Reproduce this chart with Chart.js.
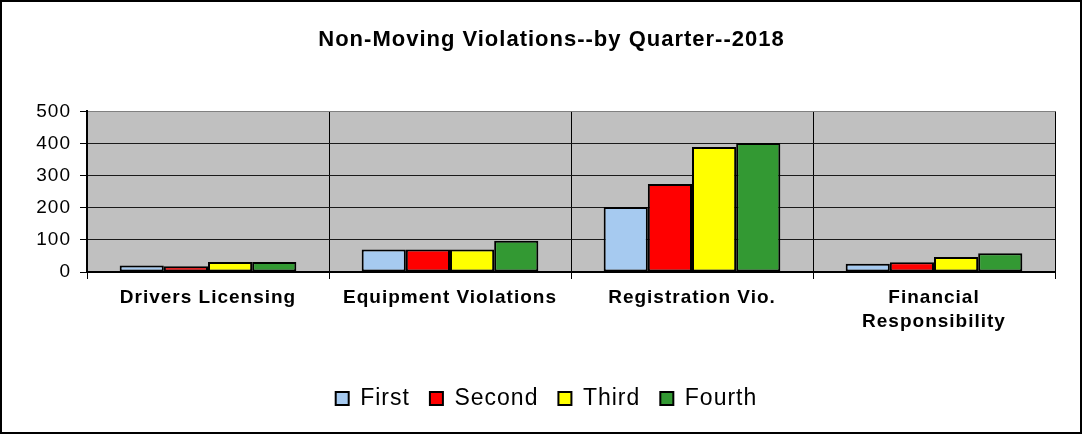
<!DOCTYPE html>
<html><head><meta charset="utf-8">
<script src="https://cdn.jsdelivr.net/npm/chart.js@4.4.1/dist/chart.umd.min.js"></script>
<style>html,body{margin:0;padding:0;background:#fff;}#wrap{width:1083px;height:435px;position:relative;}canvas{display:block;}</style>
</head><body><div id="wrap"><canvas id="c" width="1083" height="435"></canvas></div>
<script>
const categories = ["Drivers Licensing", "Equipment Violations", "Registration Vio.", ["Financial", "Responsibility"]];
const seriesNames = ["First", "Second", "Third", "Fourth"];
const firstQ = [20, 70, 202, 26];
const secondQ = [18, 70, 274, 30];
const thirdQ = [31, 70, 389, 47];
const fourthQ = [31, 97, 402, 58];
const yMin = 0, yMax = 500, yStep = 100;
const seriesColors = ["#A6CAF0", "#FF0000", "#FFFF00", "#339933"];

const FONT = "'Liberation Sans', Arial, sans-serif";
const SPACING = '1px';

const framePlugin = {
  id: 'frame',
  beforeLayout(chart) { chart.ctx.letterSpacing = SPACING; },
  afterLayout(chart) {
    // centre title and legend like the original (slightly right of canvas centre)
    if (chart.titleBlock) { chart.titleBlock.left += 24; chart.titleBlock.right += 24; }
    if (chart.legend) { chart.legend.left += 19; chart.legend.right += 19; }
  },
  beforeDraw(chart) {
    const ctx = chart.ctx;
    ctx.letterSpacing = SPACING;
    ctx.save();
    ctx.fillStyle = '#fff';
    ctx.fillRect(0, 0, chart.width, chart.height);
    const a = chart.chartArea;
    ctx.fillStyle = '#C0C0C0';
    ctx.fillRect(a.left, a.top, a.right - a.left, a.bottom - a.top);
    ctx.restore();
  },
  afterDraw(chart) {
    const ctx = chart.ctx;
    ctx.save();
    ctx.strokeStyle = '#000';
    ctx.lineWidth = 2;
    ctx.strokeRect(1, 1, chart.width - 3, chart.height - 3);
    ctx.restore();
  }
};

const series = [firstQ, secondQ, thirdQ, fourthQ];
new Chart(document.getElementById('c'), {
  type: 'bar',
  data: {
    labels: categories,
    datasets: series.map((d, i) => ({
      label: seriesNames[i],
      data: d,
      backgroundColor: seriesColors[i],
      borderColor: '#000',
      borderWidth: 2,
      borderSkipped: false,
      barPercentage: 1.0,
      categoryPercentage: 0.73
    }))
  },
  options: {
    responsive: false,
    devicePixelRatio: 1,
    animation: false,
    layout: { padding: { left: 0, right: 28, top: 0, bottom: 15 } },
    plugins: {
      title: {
        display: true,
        text: 'Non-Moving Violations--by Quarter--2018',
        color: '#000',
        font: { family: FONT, size: 22, weight: 'bold', lineHeight: 1.2 },
        padding: { top: 27, bottom: 58 }
      },
      legend: {
        position: 'bottom',
        labels: {
          color: '#000',
          font: { family: FONT, size: 23 },
          boxWidth: 13,
          boxHeight: 13,
          padding: 20
        }
      },
      tooltip: { enabled: false }
    },
    scales: {
      x: {
        offset: true,
        grid: {
          offset: true,
          color: (c) => (c.index === categories.length ? '#808080' : '#000'),
          lineWidth: 1,
          drawTicks: true,
          tickLength: 7,
          tickColor: '#000'
        },
        border: { color: '#000', width: 2 },
        ticks: {
          color: '#000',
          font: { family: FONT, size: 19, weight: 'bold', lineHeight: 1.26 },
          padding: 7,
          maxRotation: 0,
          autoSkip: false
        },
        afterFit(scale) { scale.height = 95; }
      },
      y: {
        min: yMin,
        max: yMax,
        grid: {
          color: (c) => (c.tick && c.tick.value === yMax ? '#808080' : '#1a1a1a'),
          lineWidth: 1,
          drawTicks: true,
          tickLength: 7,
          tickColor: '#000'
        },
        border: { color: '#000', width: 2 },
        ticks: {
          stepSize: yStep,
          color: '#000',
          font: { family: FONT, size: 19 },
          padding: 9
        },
        afterFit(scale) { scale.width = 87; }
      }
    }
  },
  plugins: [framePlugin]
});
</script>
</body></html>
